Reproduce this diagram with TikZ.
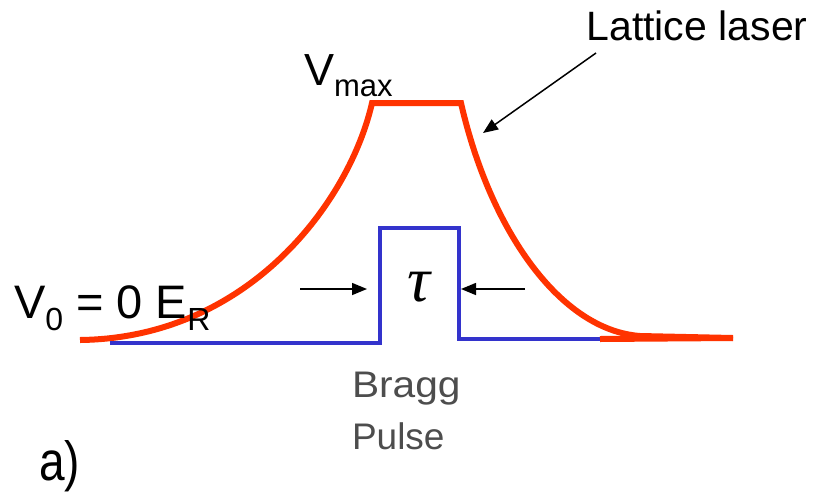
\documentclass[tikz,border=0pt]{standalone}
\usepackage{fontspec}
\setmainfont{Liberation Sans}
\newfontfamily\serifit{Liberation Serif}
\usetikzlibrary{arrows.meta}
\definecolor{laserred}{HTML}{FF3300}
\definecolor{pulseblue}{HTML}{3333CC}
\definecolor{textgray}{HTML}{4D4D4D}
\tikzset{
  laser/.style={draw=laserred,line width=6pt},
  pulse/.style={draw=pulseblue,line width=4pt},
  pointer/.style={draw=black,line width=1.5pt,-{Triangle[length=15pt,width=12pt]}},
  lbl/.style={inner sep=0pt,outer sep=0pt},
  graylbl/.style={lbl,anchor=base west,text=textgray,font=\fontsize{37}{42}\selectfont}
}
\begin{document}
\begin{tikzpicture}[x=1pt,y=-1pt]
\useasboundingbox (0,0) rectangle (819,491);
% lattice laser curve
\coordinate (r0) at (80,340);
\coordinate (r1) at (372,103);
\coordinate (r2) at (461,103);
\coordinate (r3) at (640,336);
\coordinate (r4) at (733,338);
\draw[laser,line join=miter] (r0) .. controls (250,338) and (350,200) .. (r1) -- (r2)
  .. controls (490,230) and (560,330) .. (r3) -- (r4);
% bragg pulse
\coordinate (b0) at (110,343);
\coordinate (b1) at (380,343);
\coordinate (b2) at (380,228);
\coordinate (b3) at (459,228);
\coordinate (b4) at (459,339);
\coordinate (b5) at (640,339);
\draw[pulse] (b0) -- (b1) -- (b2) -- (b3) -- (b4) -- (b5);
\draw[laser] (600,339) -- (r4);
% tau arrows
\coordinate (la) at (300,289);
\coordinate (lb) at (367,289);
\coordinate (ra) at (525,289);
\coordinate (rb) at (461,289);
\draw[pointer] (la) -- (lb);
\draw[pointer] (ra) -- (rb);
\node[lbl] (tau) at (419,287) {\fontsize{64}{68}\selectfont\serifit\itshape τ};
% labels
\node[lbl,anchor=base] (lattice) at (697,40) {\fontsize{41}{46}\selectfont Lattice laser};
\coordinate (lt) at (596,53);
\coordinate (lh) at (483,133);
\draw[pointer] (lt) -- (lh);
\node[lbl,anchor=base west] (vmax) at (304,85) {\fontsize{45}{50}\selectfont V\raisebox{-11pt}{\fontsize{31}{34}\selectfont max}};
\node[lbl,anchor=base west] (v0) at (14,318) {\fontsize{47}{52}\selectfont V\raisebox{-12pt}{\fontsize{32}{36}\selectfont 0} = 0 E\raisebox{-12pt}{\fontsize{32}{36}\selectfont R}};
\node[graylbl] (bragg) at (352,397) {\scalebox{1.1}[1]{Bragg}};
\node[graylbl] (pulsetxt) at (352,449) {Pulse};
\node[lbl,anchor=base west] (a) at (39,480) {\scalebox{1}[1.2]{\fontsize{46}{50}\selectfont a)}};
\end{tikzpicture}
\end{document}
